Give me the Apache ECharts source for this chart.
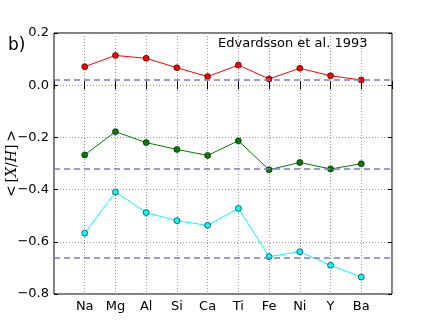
<!DOCTYPE html>
<html>
<head>
<meta charset="utf-8">
<script src="https://cdn.jsdelivr.net/npm/echarts@6/dist/echarts.min.js"></script>
<style>
  html, body { margin: 0; padding: 0; background: #fff; }
  #chart { width: 436px; height: 327px; }
</style>
</head>
<body>
<div id="chart"></div>
<script>
// element names, padded with a blank slot at each end like the original axis
var elements = ['', 'Na', 'Mg', 'Al', 'Si', 'Ca', 'Ti', 'Fe', 'Ni', 'Y', 'Ba', ''];

var redVals   = [null, 0.071, 0.114, 0.103, 0.067, 0.033, 0.077, 0.024, 0.065, 0.036, 0.020, null];
var greenVals = [null, -0.267, -0.178, -0.220, -0.246, -0.269, -0.213, -0.324, -0.296, -0.321, -0.301, null];
var cyanVals  = [null, -0.567, -0.409, -0.488, -0.519, -0.537, -0.472, -0.657, -0.638, -0.690, -0.735, null];

// mean levels (dashed lines)
var redMean = 0.024;
var greenMean = -0.322;
var cyanMean = -0.655;

var font = 'DejaVu Sans';
var dashColor = '#7b7bcc';

function fmt(v) {
  var s = Math.abs(v).toFixed(1);
  return v < -1e-9 ? '\u2212' + s : s;
}

function makeSeries(vals, color, mean) {
  return {
    type: 'line',
    data: vals,
    symbol: 'circle',
    symbolSize: 6,
    lineStyle: { color: color, width: 1 },
    itemStyle: { color: color, borderColor: '#000', borderWidth: 0.6 },
    emphasis: { disabled: true },
    markLine: {
      silent: true,
      symbol: 'none',
      label: { show: false },
      lineStyle: { color: dashColor, type: [6, 4], width: 1.5 },
      data: [{ yAxis: mean }]
    },
    z: 3
  };
}

var chart = echarts.init(document.getElementById('chart'));
chart.setOption({
  animation: false,
  grid: {
    left: 54, right: 44, top: 33, bottom: 33,
    outerBoundsMode: 'none',
    containLabel: false,
    show: true, borderColor: '#000', borderWidth: 1, backgroundColor: 'transparent'
  },
  title: [
    { text: 'b)', left: 3, top: 32, textStyle: { fontFamily: font, fontSize: 17, fontWeight: 'normal', color: '#000' } },
    { text: 'Edvardsson et al. 1993', left: 213, top: 32, textStyle: { fontFamily: font, fontSize: 13, fontWeight: 'normal', color: '#000' } }
  ],
  xAxis: [{
    type: 'category',
    data: elements,
    boundaryGap: false,
    axisLine: { show: false },
    axisTick: { show: true, inside: true, length: 4, lineStyle: { color: '#000' } },
    axisLabel: { fontFamily: font, fontSize: 13, color: '#000', margin: 6, interval: 0 },
    splitLine: { show: true, lineStyle: { color: '#999', type: [1, 2], width: 1 } }
  }, {
    type: 'category',
    data: elements,
    boundaryGap: false,
    position: 'top',
    axisLine: { show: false },
    axisTick: { show: true, inside: true, length: 4, lineStyle: { color: '#000' } },
    axisLabel: { show: false }
  }],
  yAxis: [{
    type: 'value',
    min: -0.8, max: 0.2, interval: 0.2,
    name: '{u|<\u2009[}{i|X}{u|/}{i|H}{u|]\u2009>}',
    nameLocation: 'middle',
    nameGap: 35,
    nameMoveOverlap: false,
    nameRotate: 90,
    nameTextStyle: {
      rich: {
        u: { fontFamily: 'DejaVu Serif', fontSize: 14, color: '#000' },
        i: { fontFamily: 'DejaVu Serif', fontStyle: 'italic', fontSize: 14, color: '#000' }
      }
    },
    axisLine: { show: false },
    axisTick: { show: true, inside: true, length: 4, lineStyle: { color: '#000' } },
    axisLabel: { fontFamily: font, fontSize: 13, color: '#000', margin: 5, formatter: fmt },
    splitLine: { show: true, lineStyle: { color: '#999', type: [1, 2], width: 1 } }
  }, {
    type: 'value',
    position: 'right',
    min: -0.8, max: 0.2, interval: 0.2,
    axisLine: { show: false },
    axisTick: { show: true, inside: true, length: 4, lineStyle: { color: '#000' } },
    axisLabel: { show: false },
    splitLine: { show: false }
  }],
  series: [
    makeSeries(redVals, '#ff0000', redMean),
    makeSeries(greenVals, '#008000', greenMean),
    makeSeries(cyanVals, '#00ffff', cyanMean)
  ]
});
</script>
</body>
</html>
